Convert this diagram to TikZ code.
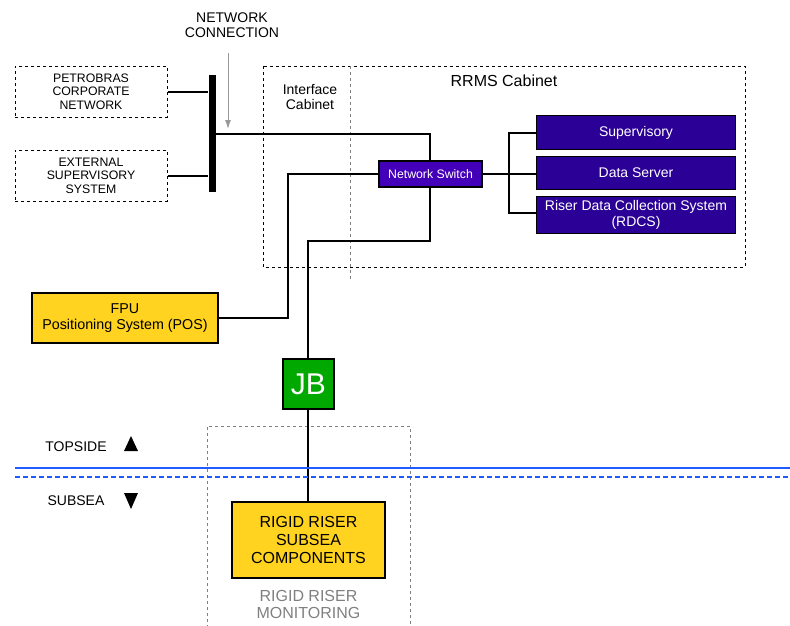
\documentclass[tikz,border=0pt]{standalone}
\usepackage{fontspec}
\setmainfont{Liberation Sans}
\usetikzlibrary{arrows.meta}
\definecolor{pur}{HTML}{2B0096}
\definecolor{swpur}{HTML}{4400B8}
\definecolor{yel}{HTML}{FFD320}
\definecolor{grn}{HTML}{00A800}
\definecolor{blu}{HTML}{1F5BFF}
\tikzset{
  ext/.style={draw, dashed, line width=1pt, minimum width=152pt, minimum height=51pt, align=center, font=\fontsize{12.3}{13.5}\selectfont, inner sep=0pt},
  pbox/.style={draw, fill=pur, text=white, line width=1pt, minimum width=199pt, align=center, font=\fontsize{14}{16}\selectfont, inner sep=0pt},
  ybox/.style={draw, fill=yel, line width=1.2pt, align=center, inner sep=0pt},
  wire/.style={line width=2pt},
}
\begin{document}
\begin{tikzpicture}[x=1pt,y=-1pt]
\useasboundingbox (0,0) rectangle (790,625);
% cabinet
\draw[dashed, line width=1pt] (263,66) rectangle (745,267);
\draw[dashed, gray, line width=1pt] (350,66) -- (350,279);
\node[font=\fontsize{14}{15}\selectfont, align=center] (ifc) at (310,96.5) {Interface\\Cabinet};
\node[font=\fontsize{16}{17}\selectfont] (rrms) at (504,81) {RRMS Cabinet};
% network connection
\node[font=\fontsize{14}{15}\selectfont, align=center] (nc) at (232,25) {NETWORK\\CONNECTION};
\coordinate (arrs) at (228,53);
\coordinate (arre) at (228,129);
\draw[gray!80, line width=1pt, -{Latex[length=9pt,width=6pt]}] (arrs) -- (arre);
% external boxes
\node[ext] (pet) at (91,91.5) {PETROBRAS\\CORPORATE\\NETWORK};
\node[ext] (ess) at (91,175.5) {EXTERNAL\\SUPERVISORY\\SYSTEM};
% bus bar
\node[fill=black, minimum width=7pt, minimum height=117pt, inner sep=0pt] (bar) at (212,133.5) {};
\draw[wire] (pet.east) -- (pet.east -| bar.west);
\draw[wire] (ess.east) -- (ess.east -| bar.west);
% network switch
\node[draw, fill=swpur, text=white, line width=1.2pt, minimum width=103pt, minimum height=26pt, inner sep=0pt, font=\fontsize{12.3}{12}\selectfont] (sw) at (430.5,174) {Network Switch};
\coordinate (c1) at (430,134);
\coordinate (c2) at (430,241);
\draw[wire] (bar.east |- c1) -- (c1) -- (c1 |- sw.north);
% right boxes
\node[pbox, minimum height=34pt] (sup) at (636,132.5) {Supervisory};
\node[pbox, minimum height=33pt] (ds) at (636,172.5) {Data Server};
\node[pbox, minimum height=37pt] (rdcs) at (636,214.5) {Riser Data Collection System\\(RDCS)};
\coordinate (vb) at (509,174);
\draw[wire] (sw.east) -- (vb -| ds.west);
\draw[wire] (sup.west) -- (sup.west -| vb) -- (509,213) -- (rdcs.west |- 0,213);
% FPU
\node[ybox, minimum width=186pt, minimum height=50pt, font=\fontsize{14.3}{16}\selectfont] (fpu) at (125,318) {FPU\\Positioning System (POS)};
\draw[wire] (sw.west) -- (288,174) -- (288,318) -- (fpu.east);
% JB
\node[draw, fill=grn, text=white, line width=1.2pt, minimum width=51pt, minimum height=50pt, inner sep=0pt, font=\fontsize{30}{30}\selectfont] (jb) at (308.5,384) {JB};
\draw[wire] (c2 |- sw.south) -- (c2) -- (308,241) -- (jb.north -| 308,0);
% rigid riser monitoring
\draw[dashed, gray, line width=1pt] (207,646) -- (207,426) -- (410,426) -- (410,646);
\node[ybox, minimum width=153pt, minimum height=76pt, font=\fontsize{16}{18}\selectfont] (rr) at (308.5,540) {RIGID RISER\\SUBSEA\\COMPONENTS};
\draw[wire] (jb.south -| 308,0) -- (rr.north -| 308,0);
\node[gray, font=\fontsize{16}{17}\selectfont, align=center] (rrm) at (308.5,604) {RIGID RISER\\MONITORING};
% sea line
\draw[blu, line width=2pt] (15,468) -- (790,468);
\draw[blu, dash pattern=on 5pt off 3pt, line width=1.5pt] (15,477) -- (790,477);
\node[font=\fontsize{14}{15}\selectfont] (top) at (76,447) {TOPSIDE};
\node[font=\fontsize{14}{15}\selectfont] (sub) at (76,501) {SUBSEA};
\fill (124,451) -- (138,451) -- (131,436) -- cycle;
\fill (124,493) -- (138,493) -- (131,509) -- cycle;
\end{tikzpicture}
\end{document}
